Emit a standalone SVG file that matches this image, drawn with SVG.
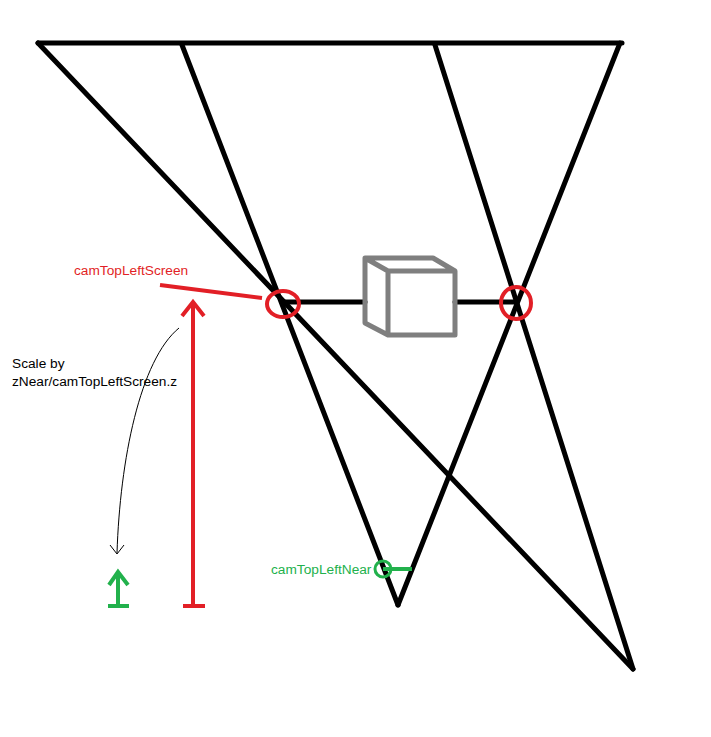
<svg xmlns="http://www.w3.org/2000/svg" width="711" height="737" viewBox="0 0 711 737">
<style>
.k{stroke:#000;stroke-width:5;fill:none;stroke-linecap:round}
.r{stroke:#e21f26;stroke-width:4;fill:none}
.g{stroke:#22b14c;stroke-width:4;fill:none}
.c{stroke:#7f7f7f;stroke-width:5;fill:none;stroke-linejoin:round}
text{font-family:"Liberation Sans",Arial,sans-serif;font-size:13.7px}
</style>
<rect width="711" height="737" fill="#fff"/>
<g id="connectors">
<line class="k" x1="38" y1="43" x2="622" y2="43"/>
<line class="k" x1="38" y1="43" x2="633" y2="669"/>
<line class="k" x1="182" y1="45" x2="398" y2="605"/>
<line class="k" x1="398" y1="605" x2="620" y2="43"/>
<line class="k" x1="435" y1="45" x2="633" y2="669"/>
<line class="k" x1="283" y1="302" x2="365" y2="302"/>
<line class="k" x1="455" y1="302" x2="515" y2="302"/>
<path d="M179 328 C140 360 120 460 117 553" stroke="#000" stroke-width="1" fill="none"/>
<path d="M110 545 L117 554 L124 545" stroke="#000" stroke-width="1" fill="none"/>
</g>
<g id="cube">
<path class="c" d="M365 258 H433 L455 271 V335 H388 L365 323 Z M365 258 L388 271 H455 M388 271 V335"/>
</g>
<g id="camTopLeftScreen">
<ellipse class="r" cx="283" cy="304" rx="16" ry="13"/>
<ellipse class="r" cx="516" cy="303" rx="15" ry="16"/>
<line class="r" x1="160" y1="285" x2="262" y2="298"/>
<text x="74" y="275" fill="#e21f26">camTopLeftScreen</text>
</g>
<g id="redArrow">
<line class="r" x1="193" y1="302" x2="193" y2="606"/>
<path class="r" d="M182 316 L193 302 L204 316"/>
<line class="r" x1="183" y1="606" x2="205" y2="606"/>
</g>
<g id="greenArrow">
<line class="g" x1="118" y1="572" x2="118" y2="606"/>
<path class="g" d="M109 585 L118 572 L128 585"/>
<line class="g" x1="108" y1="606" x2="129" y2="606"/>
</g>
<g id="camTopLeftNear">
<circle cx="383" cy="569" r="8" stroke="#22b14c" stroke-width="3" fill="none"/>
<line class="g" x1="383" y1="569" x2="412" y2="569"/>
<text x="271" y="574" fill="#22b14c">camTopLeftNear</text>
</g>
<g id="scaleLabel">
<text x="12" y="368" fill="#000">Scale by</text>
<text x="12" y="386" fill="#000">zNear/camTopLeftScreen.z</text>
</g>
</svg>
